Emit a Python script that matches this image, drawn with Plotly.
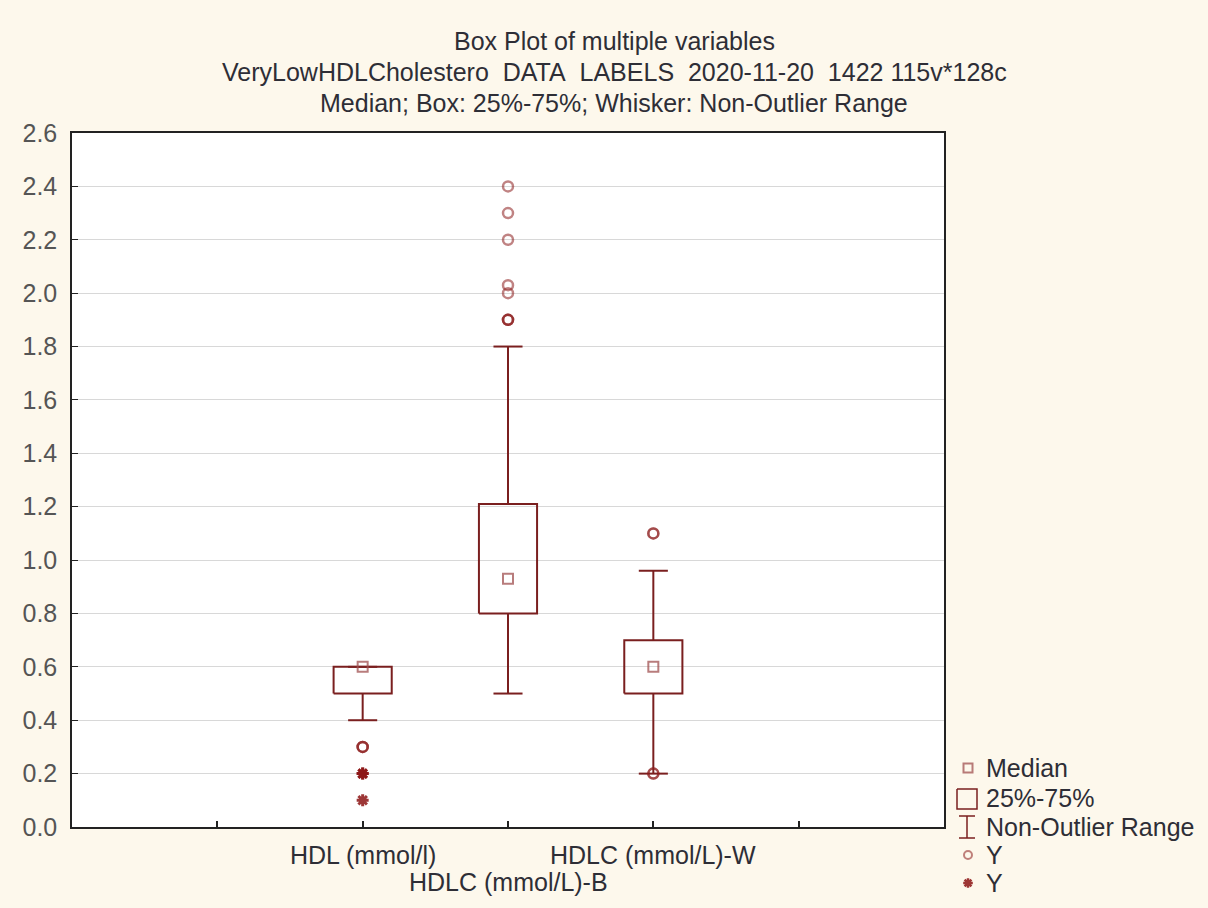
import plotly.graph_objects as go

# ---------------- data ----------------
categories = ["HDL (mmol/l)", "HDLC (mmol/L)-B", "HDLC (mmol/L)-W"]
medians = [0.60, 0.93, 0.60]
q1 = [0.50, 0.80, 0.50]
q3 = [0.60, 1.21, 0.70]
whisker_low = [0.40, 0.50, 0.20]
whisker_high = [0.60, 1.80, 0.96]
# outliers (repeated values = several overlapping observations)
outliers = [
    [0.30, 0.30, 0.30],
    [1.90, 1.90, 1.90, 2.00, 2.03, 2.20, 2.30, 2.40],
    [1.10, 1.10, 0.20, 0.20],
]
# extremes
extremes = [
    [0.20, 0.20, 0.10],
    [],
    [],
]
y_ticks = [round(0.2 * k, 1) for k in range(14)]

# ---------------- styling ----------------
FONT = "Liberation Sans, Arial, sans-serif"
PAPER = "#FDF8EC"
DARK = "#7A1F1F"
MED = "rgba(160,80,80,0.75)"
OUT = "rgba(140,30,30,0.55)"
EXT = "rgba(140,20,20,0.85)"
TXT = "#2E2E36"
FS = 25

W, H = 1208, 908
ML, MT = 72, 133
PLOT_R = 944
PLOT_B = 827
area_w = W - ML
area_h = H - MT


def px(xp):
    return (xp - ML) / area_w


def py(yp):
    return (H - yp) / area_h


fig = go.Figure()

# boxes + whiskers from data
bx, by = [], []
for i in range(len(categories)):
    hw, cw = 0.2, 0.1
    bx += [i - hw, i + hw, i + hw, i - hw, i - hw, None]
    by += [q1[i], q1[i], q3[i], q3[i], q1[i], None]
    bx += [i, i, None, i - cw, i + cw, None]
    by += [whisker_low[i], q1[i], None, whisker_low[i], whisker_low[i], None]
    bx += [i, i, None, i - cw, i + cw, None]
    by += [q3[i], whisker_high[i], None, whisker_high[i], whisker_high[i], None]
fig.add_trace(go.Scatter(x=bx, y=by, mode="lines", line=dict(color=DARK, width=2),
                         showlegend=False, hoverinfo="skip", xaxis="x", yaxis="y"))

# medians
fig.add_trace(go.Scatter(x=list(range(len(categories))), y=medians, mode="markers",
                         marker=dict(symbol="square-open", size=10, color=MED, line=dict(width=2)),
                         showlegend=False, xaxis="x", yaxis="y"))

# outliers
ox, oy = [], []
for i, vals in enumerate(outliers):
    ox += [i] * len(vals)
    oy += vals
fig.add_trace(go.Scatter(x=ox, y=oy, mode="markers",
                         marker=dict(symbol="circle-open", size=10, color=OUT, line=dict(width=2.5)),
                         showlegend=False, xaxis="x", yaxis="y"))

# extremes
ex, ey = [], []
for i, vals in enumerate(extremes):
    ex += [i] * len(vals)
    ey += vals
fig.add_trace(go.Scatter(x=ex, y=ey, mode="markers",
                         marker=dict(symbol="asterisk", size=10, color=EXT,
                                     line=dict(width=3, color=EXT)),
                         showlegend=False, xaxis="x", yaxis="y"))

# ---------------- manual legend (in pixel-based hidden axes) ----------------
LX = 968
leg_rows = {"Median": 768, "25%-75%": 798, "Non-Outlier Range": 827, "Y1": 855, "Y2": 883}
fig.add_trace(go.Scatter(x=[LX], y=[leg_rows["Median"]], mode="markers",
                         marker=dict(symbol="square-open", size=9, color=MED, line=dict(width=2)),
                         showlegend=False, xaxis="x2", yaxis="y2", cliponaxis=False))
fig.add_trace(go.Scatter(x=[957, 977, 977, 957, 957], y=[789, 789, 809, 809, 789], mode="lines",
                         line=dict(color=DARK, width=1.5), showlegend=False,
                         xaxis="x2", yaxis="y2"))
fig.add_trace(go.Scatter(x=[967, 967, None, 959, 975, None, 959, 975],
                         y=[816, 838, None, 816, 816, None, 838, 838], mode="lines",
                         line=dict(color=DARK, width=1.5), showlegend=False,
                         xaxis="x2", yaxis="y2"))
fig.add_trace(go.Scatter(x=[LX], y=[leg_rows["Y1"]], mode="markers",
                         marker=dict(symbol="circle-open", size=8, color=OUT, line=dict(width=2)),
                         showlegend=False, xaxis="x2", yaxis="y2", cliponaxis=False))
fig.add_trace(go.Scatter(x=[LX], y=[leg_rows["Y2"]], mode="markers",
                         marker=dict(symbol="asterisk", size=8, color=EXT,
                                     line=dict(width=2.5, color=EXT)),
                         showlegend=False, xaxis="x2", yaxis="y2", cliponaxis=False))

annotations = []
for label, yv in leg_rows.items():
    txt = "Y" if label.startswith("Y") else label
    annotations.append(dict(x=984, y=yv, xref="x2", yref="y2", text=txt, showarrow=False,
                            xanchor="left", yanchor="middle",
                            font=dict(family=FONT, size=FS, color=TXT)))

# title lines
title_lines = [
    ("Box Plot of multiple variables", 41),
    ("VeryLowHDLCholestero\u00a0 DATA\u00a0 LABELS\u00a0 2020-11-20\u00a0 1422 115v*128c", 72),
    ("Median; Box: 25%-75%; Whisker: Non-Outlier Range", 103),
]
for txt, yp in title_lines:
    annotations.append(dict(x=px(614), y=py(yp), xref="paper", yref="paper", text=txt,
                            showarrow=False, xanchor="center", yanchor="middle",
                            font=dict(family=FONT, size=FS, color=TXT)))

# category labels (staggered like the original)
cat_rows = [855, 882, 855]
for i, name in enumerate(categories):
    annotations.append(dict(x=i, y=py(cat_rows[i]), xref="x", yref="paper", text=name,
                            showarrow=False, xanchor="center", yanchor="middle",
                            font=dict(family=FONT, size=FS, color=TXT)))

main_dom_x = [0, px(PLOT_R)]
main_dom_y = [py(PLOT_B), 1]

fig.update_layout(
    template="none",
    width=W, height=H, autosize=False,
    margin=dict(l=ML, r=0, t=MT, b=0, pad=0, autoexpand=False),
    paper_bgcolor=PAPER,
    plot_bgcolor=PAPER,
    showlegend=False,
    font=dict(family=FONT, size=FS, color=TXT),
    xaxis=dict(domain=main_dom_x, range=[-2, 4], tickvals=[-1, 0, 1, 2, 3],
               showticklabels=False, ticks="inside", ticklen=6, tickwidth=1.5,
               tickcolor="#222", showgrid=False, zeroline=False, automargin=False,
               showline=True, linecolor="#222", linewidth=1.5, mirror=True, anchor="y"),
    yaxis=dict(domain=main_dom_y, range=[0, 2.6], tickvals=y_ticks, tickformat=".1f",
               ticks="inside", ticklen=6, tickwidth=1, tickcolor="#222", automargin=False,
               showgrid=True, gridcolor="#D8D8D8", gridwidth=1, zeroline=False,
               showline=True, linecolor="#222", linewidth=1.5, mirror=True,
               tickfont=dict(family=FONT, size=FS, color="#555555"),
               ticklabelstandoff=8, anchor="x"),
    xaxis2=dict(domain=[px(952), 1], range=[952, W], visible=False, anchor="y2",
                automargin=False),
    yaxis2=dict(domain=[0, 1], range=[H, MT], visible=False, anchor="x2",
                automargin=False),
    annotations=annotations,
    shapes=[dict(type="rect", xref="x domain", yref="y domain", x0=0, x1=1, y0=0, y1=1,
                 fillcolor="white", line=dict(width=0), layer="below")],
)

fig.write_html("out.html")
